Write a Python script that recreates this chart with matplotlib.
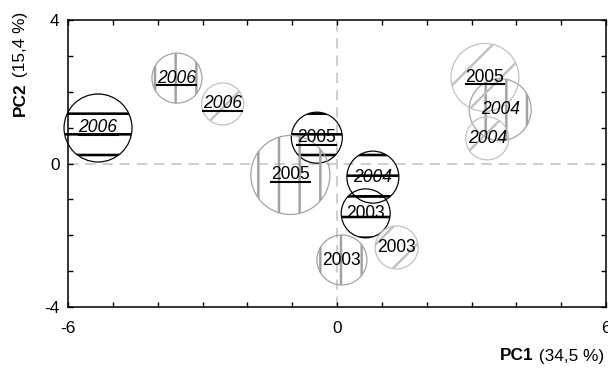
import matplotlib
matplotlib.use("Agg")
import matplotlib.pyplot as plt
from matplotlib.ticker import MultipleLocator, FixedLocator
from matplotlib.lines import Line2D

DPI = 124

# bubble data: PC1, PC2, size (bubble radius), year, group
pc1 = [-5.33, -3.57, -2.55, -0.45, -1.04, 3.30, 0.80, 3.64, 3.35, 0.64, 0.11, 1.33]
pc2 = [0.99, 2.38, 1.66, 0.72, -0.32, 2.40, -0.38, 1.50, 0.70, -1.39, -2.69, -2.34]
size = [34, 25, 21, 25.5, 39.5, 34, 26, 31, 21.5, 24.5, 25, 21.5]
years = ["2006", "2006", "2006", "2005", "2005", "2005",
         "2004", "2004", "2004", "2003", "2003", "2003"]
groups = ["A", "B", "C", "A", "B", "C", "A", "B", "C", "A", "B", "C"]

# looks for each group: edge color, hatch, edge width, hatch width
group_style = {
    "A": dict(color="#000000", hatch="-", lw=0.7, hlw=1.5),
    "B": dict(color="#a0a0a0", hatch="|", lw=0.7, hlw=1.4),
    "C": dict(color="#c0c0c0", hatch="/", lw=0.7, hlw=1.4),
}
year_italic = {"2006": True, "2005": False, "2004": True, "2003": False}
year_underline = {"2006": True, "2005": True, "2004": False, "2003": False}

plt.rcParams["font.family"] = ["Liberation Sans", "DejaVu Sans"]
plt.rcParams["axes.unicode_minus"] = False

fig = plt.figure(figsize=(608 / DPI, 368 / DPI), dpi=DPI)
ax = fig.add_axes([68 / 608, 1 - 307 / 368, 538 / 608, 287 / 368])

ax.axhline(0, color="#c8c8c8", lw=1.0, ls=(0, (6, 4)), zorder=1)
ax.axvline(0, color="#c8c8c8", lw=1.0, ls=(0, (6, 4)), zorder=1)

for g, st in group_style.items():
    idx = [i for i, gg in enumerate(groups) if gg == g]
    xs = [pc1[i] for i in idx]
    ys = [pc2[i] for i in idx]
    ss = [(2 * size[i] * 72 / DPI) ** 2 for i in idx]
    plt.rcParams["hatch.linewidth"] = st["hlw"]
    sc = ax.scatter(xs, ys, s=ss, facecolors="none", edgecolors=st["color"],
                    linewidths=st["lw"], hatch=st["hatch"], zorder=2,
                    clip_on=False)
    if hasattr(sc, "set_hatch_linewidth"):
        sc.set_hatch_linewidth(st["hlw"])

texts = []
for x, y, yr in zip(pc1, pc2, years):
    t = ax.text(x, y, yr, ha="center", va="center", fontsize=10.2,
                style="italic" if year_italic[yr] else "normal", zorder=3)
    texts.append((t, year_underline[yr]))

ax.set_xlim(-6, 6)
ax.set_ylim(-4, 4)
ax.xaxis.set_major_locator(FixedLocator([-6, 0, 6]))
ax.yaxis.set_major_locator(FixedLocator([-4, 0, 4]))
ax.xaxis.set_minor_locator(MultipleLocator(1))
ax.yaxis.set_minor_locator(MultipleLocator(1))
ax.tick_params(which="both", direction="in", top=True, right=True,
               length=3, width=0.8, labelsize=10)
ax.tick_params(axis="x", pad=8)
ax.tick_params(axis="y", pad=5)
for sp in ax.spines.values():
    sp.set_linewidth(0.9)

# axis titles: bold part + normal part
fig.canvas.draw()
r = fig.canvas.get_renderer()
t_norm = fig.text(604 / 608, 1 - 356 / 368, " (34,5 %)", fontsize=10,
                  ha="right", va="center")
bb = t_norm.get_window_extent(r)
fig.text(bb.x0 / fig.bbox.width, 1 - 356 / 368, "PC1", fontsize=10,
         fontweight="bold", ha="right", va="center")

t_b = fig.text(20 / 608, 1 - 12 / 368, " (15,4 %)", fontsize=10,
               rotation=90, ha="center", va="top")
bb = t_b.get_window_extent(r)
fig.text(20 / 608, bb.y0 / fig.bbox.height, "PC2", fontsize=10,
         fontweight="bold", rotation=90, ha="center", va="top")

# underline the marked labels
for t, under in texts:
    if not under:
        continue
    bb = t.get_window_extent(r)
    yl = (bb.y0 + 1.5) / fig.bbox.height
    fig.add_artist(Line2D([bb.x0 / fig.bbox.width, bb.x1 / fig.bbox.width],
                          [yl, yl], color="black", lw=1.2, zorder=4))

fig.savefig("out.png", dpi=DPI)
